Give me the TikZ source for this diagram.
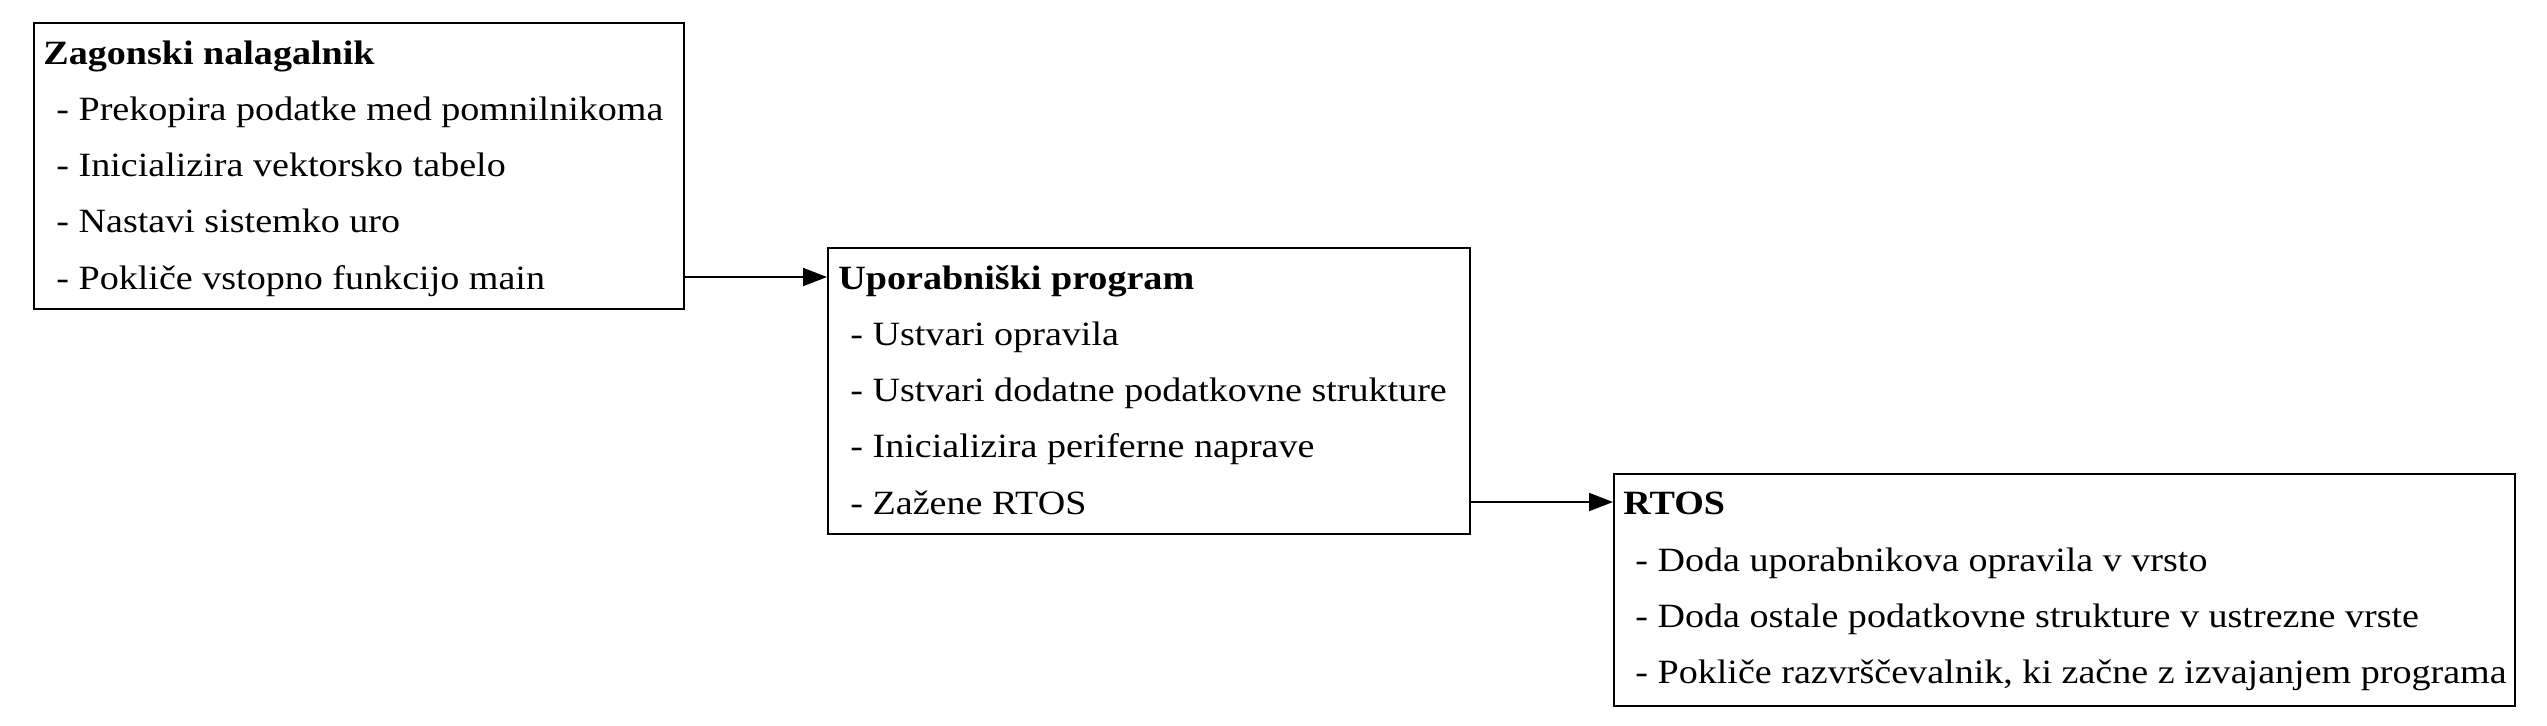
\documentclass[tikz,border=0pt]{standalone}
\usepackage{fontspec}
\setmainfont{Liberation Serif}[FakeStretch=1.12]
\usetikzlibrary{arrows.meta}

\tikzset{
  box/.style={draw, line width=1pt, anchor=north west, inner sep=0pt},
  head/.style={anchor=west, inner sep=0pt, text height=12pt, text depth=0pt,
    font=\fontsize{17pt}{20pt}\selectfont\bfseries},
  item/.style={anchor=west, inner sep=0pt, text height=12pt, text depth=0pt,
    font=\fontsize{17pt}{20pt}\selectfont},
  flow/.style={line width=1pt, -{Triangle[length=12pt,width=9pt]}}
}

\begin{document}
\begin{tikzpicture}[x=0.5pt,y=-0.5pt]
\useasboundingbox (0,0) rectangle (2547,725);

\node[box, minimum width=325pt, minimum height=143pt] (zag) at (33,22) {};
\node[head] (zag0) at (43,52) {Zagonski nalagalnik};
\node[item] (zag1) at (56,108) {- Prekopira podatke med pomnilnikoma};
\node[item] (zag2) at (56,164) {- Inicializira vektorsko tabelo};
\node[item] (zag3) at (56,220) {- Nastavi sistemko uro};
\node[item] (zag4) at (56,277) {- Pokliče vstopno funkcijo main};

\node[box, minimum width=321pt, minimum height=143pt] (upo) at (827,247) {};
\node[head] (upo0) at (838,277) {Uporabniški program};
\node[item] (upo1) at (850,333) {- Ustvari opravila};
\node[item] (upo2) at (850,389) {- Ustvari dodatne podatkovne strukture};
\node[item] (upo3) at (850,445) {- Inicializira periferne naprave};
\node[item] (upo4) at (850,502) {- Zažene RTOS};

\node[box, minimum width=450.5pt, minimum height=116pt] (rtos) at (1613,473) {};
\node[head] (rtos0) at (1623,502) {RTOS};
\node[item] (rtos1) at (1635,559) {- Doda uporabnikova opravila v vrsto};
\node[item] (rtos2) at (1635,615) {- Doda ostale podatkovne strukture v ustrezne vrste};
\node[item] (rtos3) at (1635,671) {- Pokliče razvrščevalnik, ki začne z izvajanjem programa};

\draw[flow] (zag.east |- zag4) -- (upo.west |- upo0);
\draw[flow] (upo.east |- upo4) -- (rtos.west |- rtos0);
\end{tikzpicture}
\end{document}
